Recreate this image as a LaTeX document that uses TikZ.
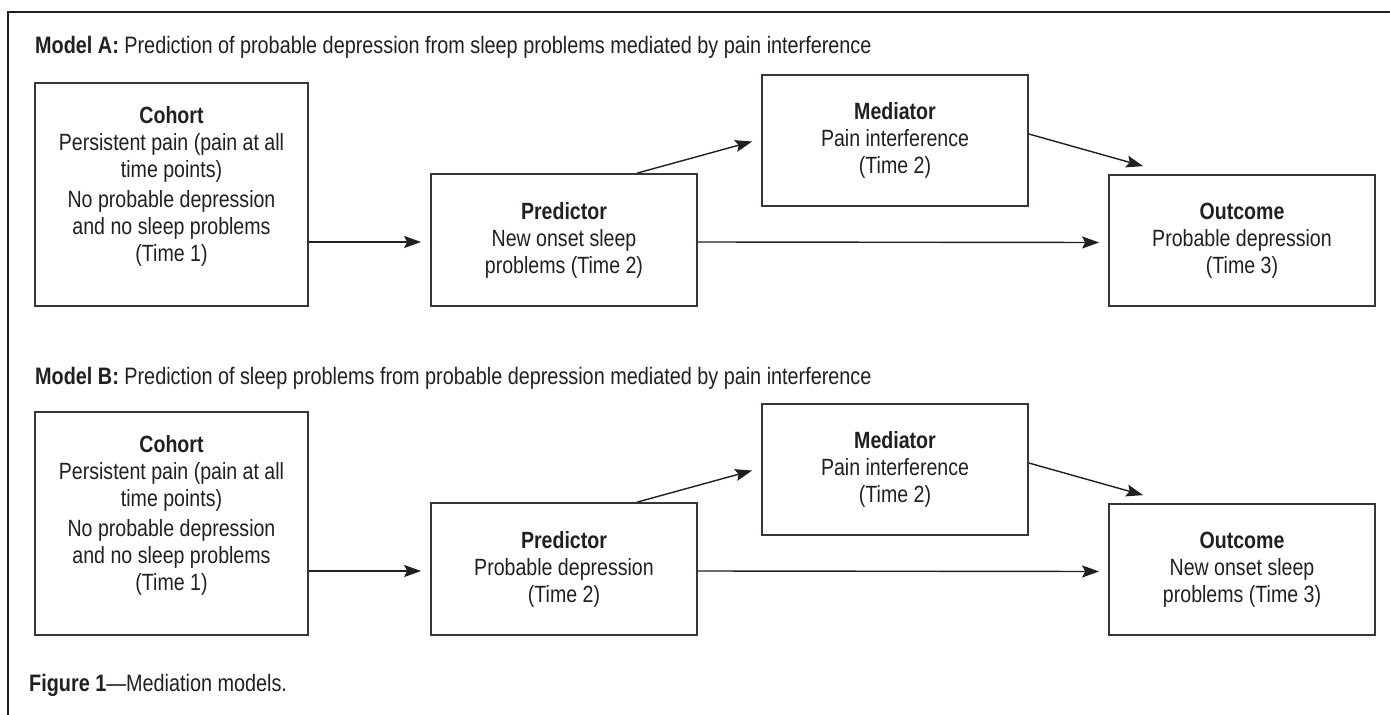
\documentclass[tikz,border=0pt]{standalone}
\usepackage{fontspec}
\setmainfont{Liberation Sans}[FakeStretch=0.833]
\usetikzlibrary{arrows.meta}
\definecolor{ink}{HTML}{231F20}
\begin{document}
\begin{tikzpicture}[x=1pt,y=-1pt,
  every node/.style={text=ink, font=\fontsize{23.5}{27}\selectfont},
  box/.style={draw=ink!90, line width=1.7pt, rectangle, inner sep=0pt, anchor=center},
  txt/.style={align=center, inner sep=0pt},
  arr/.style={draw=ink, line width=1.4pt, -{Stealth[length=17pt,width=12pt,inset=3pt]}},
  title/.style={anchor=base west, inner sep=0pt, font=\fontsize{23.8}{27}\selectfont}]
\useasboundingbox (0,0) rectangle (1390,715);
\fill[white] (0,0) rectangle (1390,715);
% outer frame (top and left rules)
\draw[ink, line width=1.5pt] (1390,12) -- (8,12) -- (8,715);

% ---------------- Model A ----------------
\node[title] (titA) at (35,53) {\textbf{Model A:} Prediction of probable depression from sleep problems mediated by pain interference};

\node[box, minimum width=273pt, minimum height=223pt] (cohA) at (171.5,194.5) {};
\node[txt] (cohAt) at ([yshift=8pt]cohA.center) {\textbf{Cohort}\\Persistent pain (pain at all\\time points)\\[3pt]No probable depression\\and no sleep problems\\(Time 1)};

\node[box, minimum width=266pt, minimum height=132pt] (predA) at (564,240) {};
\node[txt] (predAt) at (predA.center) {\textbf{Predictor}\\New onset sleep\\problems (Time 2)};

\node[box, minimum width=266pt, minimum height=131pt] (medA) at (895,140.5) {};
\node[txt] (medAt) at (medA.center) {\textbf{Mediator}\\Pain interference\\(Time 2)};

\node[box, minimum width=266pt, minimum height=131pt] (outA) at (1242,240.5) {};
\node[txt] (outAt) at (outA.center) {\textbf{Outcome}\\Probable depression\\(Time 3)};

\draw[arr, shorten >=9pt] ([yshift=-2pt]cohA.east |- predA.west) -- ([yshift=-2pt]predA.west);
\draw[arr, shorten >=9pt] ([yshift=-2pt]predA.east) -- ([yshift=-2pt]outA.west);
\draw[arr] ([xshift=73pt]predA.north) -- ([xshift=-9pt,yshift=-1pt]medA.west);
\draw[arr] ([yshift=6.5pt]medA.east) -- ([xshift=35pt,yshift=8pt]outA.north west);

% ---------------- Model B ----------------
\node[title] (titB) at (35,384) {\textbf{Model B:} Prediction of sleep problems from probable depression mediated by pain interference};

\node[box, minimum width=273pt, minimum height=223pt] (cohB) at (171.5,523.5) {};
\node[txt] (cohBt) at ([yshift=8pt]cohB.center) {\textbf{Cohort}\\Persistent pain (pain at all\\time points)\\[3pt]No probable depression\\and no sleep problems\\(Time 1)};

\node[box, minimum width=266pt, minimum height=132pt] (predB) at (564,569) {};
\node[txt] (predBt) at (predB.center) {\textbf{Predictor}\\Probable depression\\(Time 2)};

\node[box, minimum width=266pt, minimum height=131pt] (medB) at (895,469.5) {};
\node[txt] (medBt) at (medB.center) {\textbf{Mediator}\\Pain interference\\(Time 2)};

\node[box, minimum width=266pt, minimum height=131pt] (outB) at (1242,569.5) {};
\node[txt] (outBt) at (outB.center) {\textbf{Outcome}\\New onset sleep\\problems (Time 3)};

\draw[arr, shorten >=9pt] ([yshift=-2pt]cohB.east |- predB.west) -- ([yshift=-2pt]predB.west);
\draw[arr, shorten >=9pt] ([yshift=-2pt]predB.east) -- ([yshift=-2pt]outB.west);
\draw[arr] ([xshift=73pt]predB.north) -- ([xshift=-9pt,yshift=-1pt]medB.west);
\draw[arr] ([yshift=6.5pt]medB.east) -- ([xshift=35pt,yshift=8pt]outB.north west);

% caption
\node[title] (cap) at (29,691) {\textbf{Figure 1}—Mediation models.};
\end{tikzpicture}
\end{document}
